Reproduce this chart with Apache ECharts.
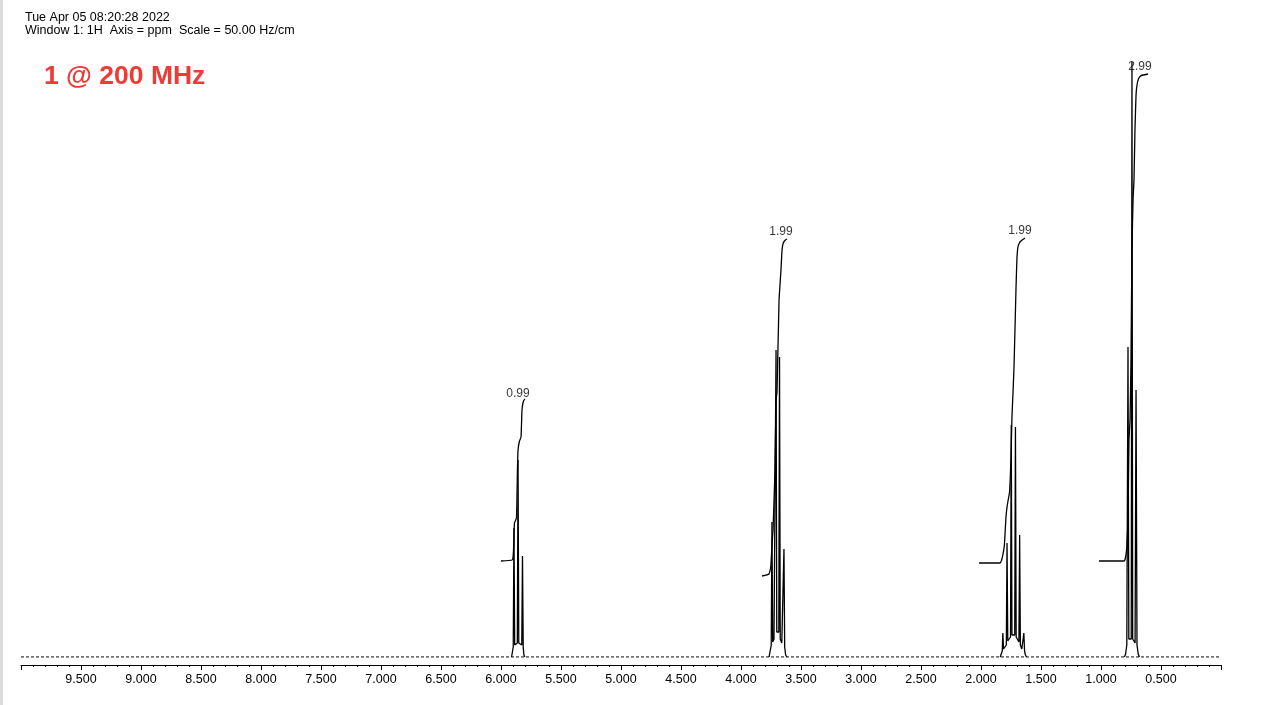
<!DOCTYPE html>
<html>
<head>
<meta charset="utf-8">
<style>
html,body{margin:0;padding:0;background:#fff;}
#chart{width:1266px;height:705px;}
</style>
<script src="https://cdn.jsdelivr.net/npm/echarts@6/dist/echarts.min.js"></script>
</head>
<body>
<div id="chart"></div>
<script>
// ---- data (ppm, intensity) ----
var headerLine1 = "Tue Apr 05 08:20:28 2022";
var headerLine2 = "Window 1: 1H  Axis = ppm  Scale = 50.00 Hz/cm";
var titleText = "1 @ 200 MHz";

var ppmMin = 0, ppmMax = 10, ppmStep = 0.5;
var baseline = [[10, 0], [0, 0]];

var cluster1 = [[5.912,0],[5.904,2],[5.898,10],[5.892,129],[5.886,12],[5.875,14],[5.864,14],[5.858,197],[5.852,14],[5.840,12],[5.827,12],[5.821,101],[5.815,10],[5.809,2],[5.801,0]];
var cluster2 = [[3.766,0],[3.756,2],[3.748,12],[3.742,135],[3.736,15],[3.725,18],[3.714,20],[3.708,307],[3.702,25],[3.694,25],[3.685,25],[3.679,300],[3.673,18],[3.660,14],[3.648,12],[3.642,108],[3.636,10],[3.628,2],[3.618,0]];
var cluster3 = [[1.840,0],[1.830,2],[1.823,6],[1.818,24],[1.812,8],[1.800,8],[1.789,12],[1.783,114],[1.777,16],[1.765,18],[1.754,20],[1.748,232],[1.742,22],[1.730,22],[1.719,22],[1.713,230],[1.707,20],[1.695,18],[1.684,15],[1.678,122],[1.672,12],[1.660,8],[1.649,6],[1.643,24],[1.637,6],[1.630,2],[1.620,0]];
var cluster4 = [[0.805,0],[0.795,3],[0.785,12],[0.775,310],[0.768,18],[0.757,16],[0.748,18],[0.742,595],[0.736,18],[0.726,16],[0.716,14],[0.708,267],[0.700,12],[0.690,3],[0.680,0]];

var integral1 = [[6.000,96],[5.908,97],[5.898,102],[5.892,118],[5.888,134],[5.871,139],[5.863,187],[5.858,207],[5.846,216],[5.833,220],[5.825,247],[5.817,254],[5.808,257],[5.800,258]];
var integral2 = [[3.825,81],[3.767,83],[3.752,90],[3.742,112],[3.733,127],[3.717,187],[3.708,257],[3.700,265],[3.683,357],[3.675,372],[3.667,387],[3.658,407],[3.648,414],[3.630,417],[3.617,418]];
var integral3 = [[2.017,94],[1.842,94],[1.828,97],[1.815,104],[1.805,112],[1.792,140],[1.783,150],[1.775,156],[1.762,165],[1.750,200],[1.742,240],[1.733,265],[1.725,290],[1.717,327],[1.708,370],[1.700,400],[1.692,410],[1.680,414],[1.667,416],[1.645,418],[1.633,419]];
var integral4 = [[1.017,96],[0.808,96],[0.795,100],[0.785,110],[0.775,137],[0.767,217],[0.758,237],[0.750,297],[0.742,407],[0.733,457],[0.725,477],[0.717,527],[0.708,562],[0.700,572],[0.688,578],[0.670,581],[0.650,582],[0.608,583]];

var integralLabelPpm = [5.858, 3.667, 1.675, 0.675];
var integralLabelVal = [263, 425, 426, 590];
var integralLabelText = ["0.99", "1.99", "1.99", "2.99"];

// ---- chart ----
var chart = echarts.init(document.getElementById('chart'), null, {renderer: 'canvas'});
var FONT = '"Liberation Sans", Arial, Helvetica, sans-serif';

function specSeries(d) {
  return {type: 'line', data: d, symbol: 'none', silent: true,
    lineStyle: {color: '#000', width: 1.3}, z: 3};
}
function intSeries(d) {
  return {type: 'line', data: d, symbol: 'none', silent: true, smooth: 0.12,
    lineStyle: {color: '#000', width: 1.3}, z: 4};
}

var labelData = integralLabelPpm.map(function (p, i) {
  return {value: [p, integralLabelVal[i]], name: integralLabelText[i]};
});

var option = {
  animation: false,
  backgroundColor: '#fff',
  grid: {left: 21, right: 45, top: 57, bottom: 48, containLabel: false},
  xAxis: {
    type: 'value', min: ppmMin, max: ppmMax, interval: ppmStep, inverse: true,
    position: 'bottom', offset: 8,
    axisLine: {show: true, onZero: false, lineStyle: {color: '#000', width: 1}},
    axisTick: {show: true, length: 5, lineStyle: {color: '#000', width: 1}},
    minorTick: {show: true, splitNumber: 5, length: 2, lineStyle: {color: '#000', width: 1}},
    axisLabel: {show: true, color: '#000', fontSize: 12.5, fontFamily: FONT, margin: 8,
      showMinLabel: false, showMaxLabel: false,
      formatter: function (v) { return v.toFixed(3); }},
    splitLine: {show: false}, minorSplitLine: {show: false}
  },
  yAxis: {type: 'value', min: 0, max: 600, show: false},
  graphic: [
    {type: 'rect', left: 0, top: 0, shape: {width: 3, height: 705}, style: {fill: '#dcdcdc'}},
    {type: 'text', left: 25, top: 11, style: {text: headerLine1, fill: '#000', font: '12.5px ' + FONT}},
    {type: 'text', left: 25, top: 24, style: {text: headerLine2, fill: '#000', font: '12.5px ' + FONT}},
    {type: 'text', left: 44, top: 63, style: {text: titleText, fill: '#ef3b36', font: 'bold 26.5px ' + FONT}}
  ],
  series: [
    {type: 'line', data: baseline, symbol: 'none', silent: true,
      lineStyle: {color: '#444', width: 1.3, type: [3, 2]}, z: 2},
    specSeries(cluster1), specSeries(cluster2), specSeries(cluster3), specSeries(cluster4),
    intSeries(integral1), intSeries(integral2), intSeries(integral3), intSeries(integral4),
    {type: 'scatter', data: labelData, symbolSize: 0, silent: true, z: 5,
      label: {show: true, position: 'inside', color: '#000', fontSize: 12, fontFamily: FONT,
        formatter: function (p) { return p.name; }}}
  ]
};
chart.setOption(option);
</script>
</body>
</html>
